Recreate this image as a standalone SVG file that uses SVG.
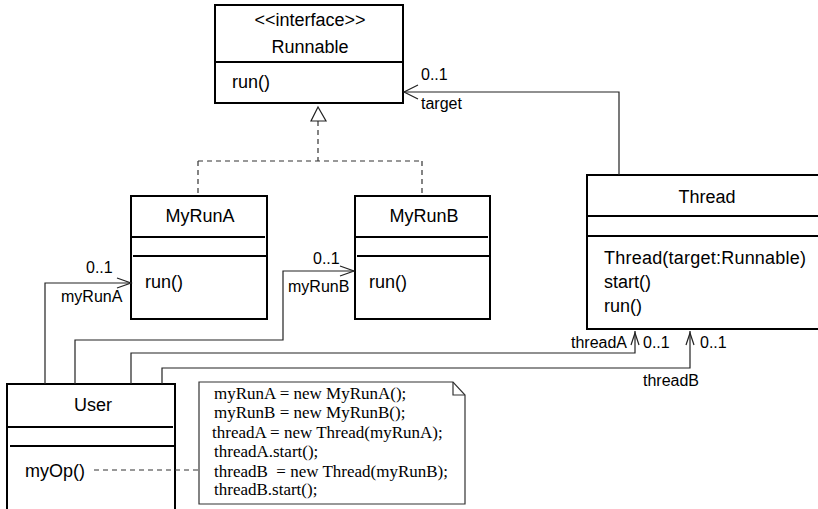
<svg xmlns="http://www.w3.org/2000/svg" width="818" height="509" viewBox="0 0 818 509">
<defs>
<style>
.box{fill:#fff;stroke:#000;stroke-width:2}
.div{stroke:#000;stroke-width:2}
.t{font-family:"Liberation Sans",Arial,sans-serif;font-size:18px;fill:#000}
.lbl{font-family:"Liberation Sans",Arial,sans-serif;font-size:16px;fill:#000}
.c{font-family:"Liberation Serif","Times New Roman",serif;font-size:17px;fill:#000}
.ln{fill:none;stroke:#222;stroke-width:1.2}
.dash{fill:none;stroke:#333;stroke-width:1.2;stroke-dasharray:5 4}
.open{fill:none;stroke:#222;stroke-width:1.2}
</style>
</defs>
<rect width="818" height="509" fill="#fff"/>
<g id="Runnable">
<rect class="box" x="215" y="5" width="188" height="98"/>
<line class="div" x1="215" y1="62" x2="403" y2="62"/>
<text class="t" x="310" y="26" text-anchor="middle">&lt;&lt;interface&gt;&gt;</text>
<text class="t" x="310" y="53" text-anchor="middle">Runnable</text>
<text class="t" x="232" y="88">run()</text>
</g>
<g id="MyRunA">
<rect class="box" x="131" y="196" width="136" height="123"/>
<line class="div" x1="131" y1="237" x2="265" y2="237"/>
<line class="div" x1="133" y1="256" x2="267" y2="256"/>
<text class="t" x="200" y="222" text-anchor="middle">MyRunA</text>
<text class="t" x="145" y="288">run()</text>
</g>
<g id="MyRunB">
<rect class="box" x="355" y="196" width="135" height="123"/>
<line class="div" x1="355" y1="237" x2="488" y2="237"/>
<line class="div" x1="357" y1="256" x2="490" y2="256"/>
<text class="t" x="424" y="222" text-anchor="middle">MyRunB</text>
<text class="t" x="369" y="288">run()</text>
</g>
<g id="Thread">
<rect class="box" x="587" y="175" width="240" height="154"/>
<line class="div" x1="587" y1="216" x2="827" y2="216"/>
<line class="div" x1="587" y1="236" x2="827" y2="236"/>
<text class="t" x="707" y="203" text-anchor="middle">Thread</text>
<text class="t" x="604" y="264" textLength="202">Thread(target:Runnable)</text>
<text class="t" x="604" y="288">start()</text>
<text class="t" x="604" y="312">run()</text>
</g>
<g id="User">
<rect class="box" x="7" y="384" width="168" height="135"/>
<line class="div" x1="7" y1="427" x2="173" y2="427"/>
<line class="div" x1="10" y1="446" x2="175" y2="446"/>
<text class="t" x="93" y="411" text-anchor="middle">User</text>
<text class="t" x="25" y="477">myOp()</text>
</g>
<g id="Note">
<path d="M199,382 H453 L465,395 V504 H199 Z" fill="#fff" stroke="#333" stroke-width="1.2"/>
<path d="M453,382 V395 H465" fill="none" stroke="#333" stroke-width="1.2"/>
<text class="c" x="214" y="399">myRunA = new MyRunA();</text>
<text class="c" x="214" y="418">myRunB = new MyRunB();</text>
<text class="c" x="212" y="438">threadA = new Thread(myRunA);</text>
<text class="c" x="214" y="457">threadA.start();</text>
<text class="c" x="214" y="477" xml:space="preserve">threadB  = new Thread(myRunB);</text>
<text class="c" x="214" y="495">threadB.start();</text>
</g>
<g id="connectors">
<path class="dash" d="M318,121 V161 M198,161 H422 M198,161 V196 M422,161 V196"/>
<polygon points="318,107 311,121 326,121" fill="#fff" stroke="#222" stroke-width="1.2"/>
<path class="ln" d="M619,175 V92 H404"/>
<path class="open" d="M418,85 L404,92 L418,99"/>
<text class="lbl" x="421" y="80">0..1</text>
<text class="lbl" x="421" y="109">target</text>
<path class="ln" d="M45,384 V283 H131"/>
<path class="open" d="M117,278 L131,283 L117,288"/>
<text class="lbl" x="86" y="273">0..1</text>
<text class="lbl" x="61" y="302">myRunA</text>
<path class="ln" d="M75,384 V340 H283 V271 H354"/>
<path class="open" d="M340,266 L354,271 L340,276"/>
<text class="lbl" x="313" y="264">0..1</text>
<text class="lbl" x="288" y="292">myRunB</text>
<path class="ln" d="M131,384 V353 H635 V331"/>
<path class="open" d="M631,345 L635,333 L639,345"/>
<text class="lbl" x="627" y="348" text-anchor="end">threadA</text>
<text class="lbl" x="643" y="348">0..1</text>
<path class="ln" d="M162,384 V368 H690 V331"/>
<path class="open" d="M686,345 L690,333 L694,345"/>
<text class="lbl" x="700" y="348">0..1</text>
<text class="lbl" x="643" y="386">threadB</text>
<path class="dash" d="M94,470 H199"/>
</g>
</svg>
